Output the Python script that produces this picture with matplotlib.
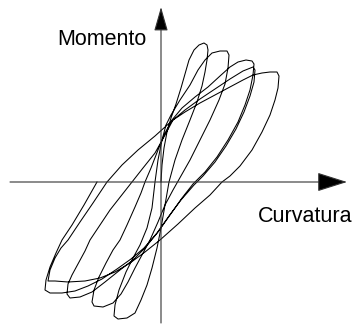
import matplotlib
matplotlib.use("Agg")
import matplotlib.pyplot as plt
from matplotlib.patches import ArrowStyle

# Moment-curvature hysteresis: one continuous load history, branch by branch
# first loading, then cycles of growing amplitude (the last amplitude repeated)
curvatura = [
    # first loading up to peak 1
    0, 1, 3, 6, 10, 15, 20, 24, 28, 33, 38, 43, 46,
    # unloading / reverse to valley 1
    47, 46, 44, 41, 36, 29, 21, 14, 8, 4, 0, -4, -9, -14, -20, -26, -34, -43, -47,
    # reload to peak 2
    -46, -42, -35, -28, -21, -14, -9, -6, -3, 1, 5, 10, 19, 29, 37, 44, 51, 59, 66,
    # reverse to valley 2
    68, 67, 64, 58, 49, 39, 29, 20, 12, 4, -3, -11, -19, -26, -33, -40, -48, -58, -67, -69,
    # reload to peak 3
    -67, -62, -55, -48, -41, -34, -26, -20, -16, -10, -3, 4, 11, 21, 34, 47, 59, 69, 77, 85, 91,
    # reverse to valley 3
    93, 92, 89, 84, 77, 67, 56, 44, 32, 21, 9, -3, -16, -28, -41, -56, -69, -81, -91, -94,
    # reload to peak 4
    -93, -89, -82, -76, -71, -61, -51, -40, -29, -18, -6, 4, 12, 24, 39, 54, 69, 82, 92, 101, 109, 116,
    # reverse to valley 4
    118, 117, 114, 109, 101, 91, 79, 69, 61, 49, 34, 17, -1, -16, -31, -46, -61, -76, -93, -106, -113,
    # second cycle at the same amplitude
    -111, -106, -100, -93, -81, -68, -54, -39, -23, -6, 4, 12, 24, 39, 54, 69, 82, 92,
    94, 93, 89, 83, 75, 65, 54, 42, 33, 20, 8, -4, -17, -30, -44, -59, -73, -86, -99, -111, -116,
    # final reload up to zero moment
    -115, -111, -105, -99, -89, -77, -64,
]
momento = [
    0, 17, 34, 50, 64, 78, 94, 108, 122, 132, 137, 139, 137,
    132, 122, 110, 96, 80, 62, 42, 22, 0, -23, -46, -66, -86, -103, -118, -131, -136, -137, -134,
    -123, -108, -90, -76, -63, -46, -26, 0, 22, 42, 57, 67, 82, 97, 112, 122, 129, 131, 131,
    127, 114, 98, 82, 62, 42, 22, 6, -8, -23, -40, -58, -73, -86, -100, -112, -121, -125, -124, -120,
    -108, -95, -81, -68, -58, -43, -25, -11, 0, 14, 32, 49, 62, 74, 85, 95, 106, 115, 120, 122, 121,
    118, 107, 92, 77, 60, 42, 25, 10, -2, -16, -33, -50, -66, -78, -88, -100, -110, -115, -116, -112,
    -102, -93, -80, -69, -58, -43, -28, -14, 0, 14, 29, 47, 62, 70, 79, 87, 95, 102, 107, 109, 110, 110,
    106, 94, 82, 67, 50, 32, 16, 6, 0, -13, -26, -42, -58, -70, -81, -90, -96, -99, -100, -99, -99,
    -88, -76, -66, -58, -40, -21, 0, 17, 32, 46, 55, 62, 72, 83, 93, 103, 111, 115,
    112, 100, 86, 70, 53, 36, 20, 6, -3, -18, -34, -51, -66, -77, -87, -97, -104, -109, -111, -111, -108,
    -98, -85, -71, -58, -43, -23, 0,
]

fig = plt.figure(figsize=(3.56, 3.25), dpi=100)
ax = fig.add_axes([0, 0, 1, 1])
ax.set_xlim(-161, 195)
ax.set_ylim(-143, 182)
ax.axis("off")

# axes drawn as arrows through the origin
axis_col = "#333333"
ax.annotate("", xy=(186, 0), xytext=(-151, 0),
            arrowprops=dict(arrowstyle=ArrowStyle("-|>", head_length=19, head_width=6),
                            mutation_scale=1, lw=0.8, color=axis_col, fc="black",
                            shrinkA=0, shrinkB=0))
ax.annotate("", xy=(0, 175), xytext=(0, -141),
            arrowprops=dict(arrowstyle=ArrowStyle("-|>", head_length=15, head_width=4.3),
                            mutation_scale=1, lw=0.8, color=axis_col, fc="black",
                            shrinkA=0, shrinkB=0))

ax.plot(curvatura, momento, color="black", lw=0.75, solid_joinstyle="round")

ax.text(-104, 137, "Momento", ha="left", va="baseline", fontsize=15.5,
        family="Liberation Sans")
ax.text(97, -40, "Curvatura", ha="left", va="baseline", fontsize=15.5,
        family="Liberation Sans")

fig.savefig("out.png", dpi=100)
